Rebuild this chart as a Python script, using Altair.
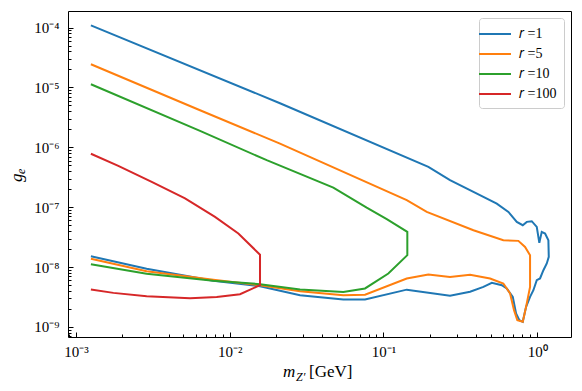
import altair as alt
import pandas as pd

# ---- data (m_Z' in GeV, g_e) ----
m_r1 = [1.25e-3, 0.02123, 0.196, 0.271, 0.385, 0.546, 0.650, 0.737, 0.806, 0.856, 0.922,
        0.994, 1.033, 1.071, 1.126, 1.183, 1.190, 1.155, 1.098, 1.044, 0.994, 0.945, 0.899,
        0.847, 0.806, 0.766, 0.729, 0.694, 0.634, 0.589, 0.507, 0.447, 0.366, 0.271, 0.1418,
        0.0759, 0.0548, 0.02867, 0.01574, 7.82e-3, 2.88e-3, 1.25e-3]
g_r1 = [1.09e-4, 5.45e-6, 4.71e-7, 2.83e-7, 1.80e-7, 1.15e-7, 8.35e-8, 5.69e-8, 5.01e-8, 5.69e-8, 5.84e-8,
        4.69e-8, 2.54e-8, 3.87e-8, 3.64e-8, 2.81e-8, 1.48e-8, 1.15e-8, 8.87e-9, 6.46e-9, 6.04e-9, 4.11e-9, 3.18e-9,
        2.17e-9, 1.22e-9, 1.30e-9, 1.68e-9, 3.18e-9, 4.40e-9, 4.99e-9, 5.45e-9, 4.67e-9, 3.88e-9, 3.33e-9, 4.20e-9,
        2.88e-9, 2.88e-9, 3.40e-9, 4.80e-9, 5.93e-9, 9.40e-9, 1.52e-8]

m_r5 = [1.25e-3, 6.41e-3, 0.02123, 0.1418, 0.1913, 0.385, 0.6026, 0.7547, 0.834, 0.899, 0.899, 0.847,
        0.806, 0.743, 0.707, 0.6665, 0.6026, 0.494, 0.366, 0.271, 0.196, 0.1418, 0.0759, 0.0548,
        0.02867, 0.01574, 7.82e-3, 2.88e-3, 1.25e-3]
g_r5 = [2.44e-5, 4.16e-6, 1.156e-6, 1.31e-7, 8.36e-8, 4.13e-8, 2.81e-8, 2.74e-8, 2.17e-8, 1.58e-8, 4.67e-9, 2.17e-9,
        1.22e-9, 1.30e-9, 1.91e-9, 3.62e-9, 5.32e-9, 6.46e-9, 7.47e-9, 6.86e-9, 7.52e-9, 6.46e-9, 3.46e-9, 3.40e-9,
        3.96e-9, 4.99e-9, 6.17e-9, 8.55e-9, 1.38e-8]

m_r10 = [1.25e-3, 6.41e-3, 0.0174, 0.0472, 0.0778, 0.1051, 0.143, 0.143, 0.1076, 0.0759, 0.0548,
         0.02867, 0.01574, 7.82e-3, 2.88e-3, 1.25e-3]
g_r10 = [1.13e-5, 1.88e-6, 6.10e-7, 2.13e-7, 9.82e-8, 6.31e-8, 3.87e-8, 1.58e-8, 7.82e-9, 4.40e-9, 3.85e-9,
         4.23e-9, 5.19e-9, 5.93e-9, 7.76e-9, 1.12e-8]

m_r100 = [1.25e-3, 1.884e-3, 3.108e-3, 5.12e-3, 8.02e-3, 0.01138, 0.01574, 0.01574, 0.01167,
          8.23e-3, 5.52e-3, 2.88e-3, 1.75e-3, 1.25e-3]
g_r100 = [7.82e-7, 4.89e-7, 2.64e-7, 1.40e-7, 6.89e-8, 3.64e-8, 1.61e-8, 4.99e-9, 3.53e-9,
          3.18e-9, 3.03e-9, 3.27e-9, 3.71e-9, 4.23e-9]

r_labels = ["1", "5", "10", "100"]
colors = ["#1f77b4", "#ff7f0e", "#2ca02c", "#d62728"]

x_major = [1e-3, 1e-2, 1e-1, 1.0]
x_minor = [9e-4] + [k * 10.0 ** e for e in (-3, -2, -1) for k in range(2, 10)]
y_major = [1e-9, 1e-8, 1e-7, 1e-6, 1e-5, 1e-4]
y_minor = [7e-10, 8e-10, 9e-10] + [k * 10.0 ** e for e in (-9, -8, -7, -6, -5) for k in range(2, 10)]

X_DOMAIN = [8.87e-4, 1.66]
Y_DOMAIN = [6.8e-10, 1.89e-4]

# ---- build table ----
rows = []
for r, ms, gs in zip(r_labels, [m_r1, m_r5, m_r10, m_r100], [g_r1, g_r5, g_r10, g_r100]):
    for i, (m, g) in enumerate(zip(ms, gs)):
        rows.append({"r": r, "m": m, "g": g, "i": i})
df = pd.DataFrame(rows)

SUP = str.maketrans("-0123456789", "⁻⁰¹²³⁴⁵⁶⁷⁸⁹")


def label_expr(exps):
    expr = f"'10{str(exps[-1]).translate(SUP)}'"
    for e in reversed(exps[:-1]):
        expr = f"datum.value < {10 ** (e + 0.5):.4g} ? '10{str(e).translate(SUP)}' : " + expr
    return expr


W, H = 503, 326
FONT = "Liberation Serif"

xscale = alt.Scale(type="log", domain=X_DOMAIN, nice=False)
yscale = alt.Scale(type="log", domain=Y_DOMAIN, nice=False)

lines = alt.Chart(df).mark_line(strokeWidth=2).encode(
    x=alt.X("m:Q", scale=xscale,
            axis=alt.Axis(orient="bottom", values=x_major, ticks=False, domain=False, grid=False,
                          labelExpr=label_expr([-3, -2, -1, 0]), labelFont=FONT, labelFontSize=15,
                          labelColor="black", labelPadding=7, labelFlush=False, title=None)),
    y=alt.Y("g:Q", scale=yscale,
            axis=alt.Axis(orient="left", values=y_major, ticks=False, domain=False, grid=False,
                          labelExpr=label_expr([-9, -8, -7, -6, -5, -4]), labelFont=FONT, labelFontSize=15,
                          labelColor="black", labelPadding=9, labelFlush=False, title=None)),
    color=alt.Color("r:N", sort=r_labels,
                    scale=alt.Scale(domain=r_labels, range=colors),
                    legend=alt.Legend(title=None, orient="top-right", offset=7, symbolType="M-2,0L2,0",
                                      symbolSize=256, symbolStrokeWidth=2, labelFont=FONT,
                                      labelFontSize=14, labelColor="black", labelOffset=15,
                                      labelExpr="'𝑟 =' + datum.label", fillColor="white",
                                      strokeColor="#cccccc", cornerRadius=3, padding=7, rowPadding=4)),
    order="i:Q",
)


def tick_layer(xv, yv, size):
    return alt.Chart(df).mark_point(opacity=0).encode(
        x=alt.X("m:Q", scale=xscale,
                axis=alt.Axis(orient="top", offset=-H, values=xv, labels=False, domain=False, grid=False,
                              tickSize=size, tickColor="black", tickWidth=1, title=None)),
        y=alt.Y("g:Q", scale=yscale,
                axis=alt.Axis(orient="right", offset=-W, values=yv, labels=False, domain=False, grid=False,
                              tickSize=size, tickColor="black", tickWidth=1, title=None)),
    )


major_ticks = tick_layer(x_major, y_major, 5)
minor_ticks = tick_layer(x_minor, y_minor, 3)

one = pd.DataFrame({"a": [0]})
xt_m = alt.Chart(one).mark_text(text="m", font=FONT, fontSize=17, fontStyle="italic", align="left",
                                baseline="alphabetic", color="black").encode(x=alt.value(215), y=alt.value(366))
xt_z = alt.Chart(one).mark_text(text="Z′", font=FONT, fontSize=12, fontStyle="italic", align="left",
                                baseline="alphabetic", color="black").encode(x=alt.value(228), y=alt.value(370))
xt_g = alt.Chart(one).mark_text(text="[GeV]", font=FONT, fontSize=17, align="left",
                                baseline="alphabetic", color="black").encode(x=alt.value(241), y=alt.value(366))
yt_g = alt.Chart(one).mark_text(text="g", font=FONT, fontSize=17, fontStyle="italic", align="left", angle=270,
                                baseline="alphabetic", color="black").encode(x=alt.value(-46), y=alt.value(171))
yt_e = alt.Chart(one).mark_text(text="e", font=FONT, fontSize=12, fontStyle="italic", align="left", angle=270,
                                baseline="alphabetic", color="black").encode(x=alt.value(-43), y=alt.value(163))

chart = alt.layer(lines, major_ticks, minor_ticks, xt_m, xt_z, xt_g, yt_g, yt_e).resolve_axis(
    x="independent", y="independent"
).properties(
    width=W, height=H,
    autosize=alt.AutoSizeParams(type="none"),
    padding={"left": 60, "top": 3, "right": 3, "bottom": 47},
).configure_view(stroke="black", strokeWidth=1)

chart.save("out.html", embed_options={"renderer": "svg", "actions": False})
